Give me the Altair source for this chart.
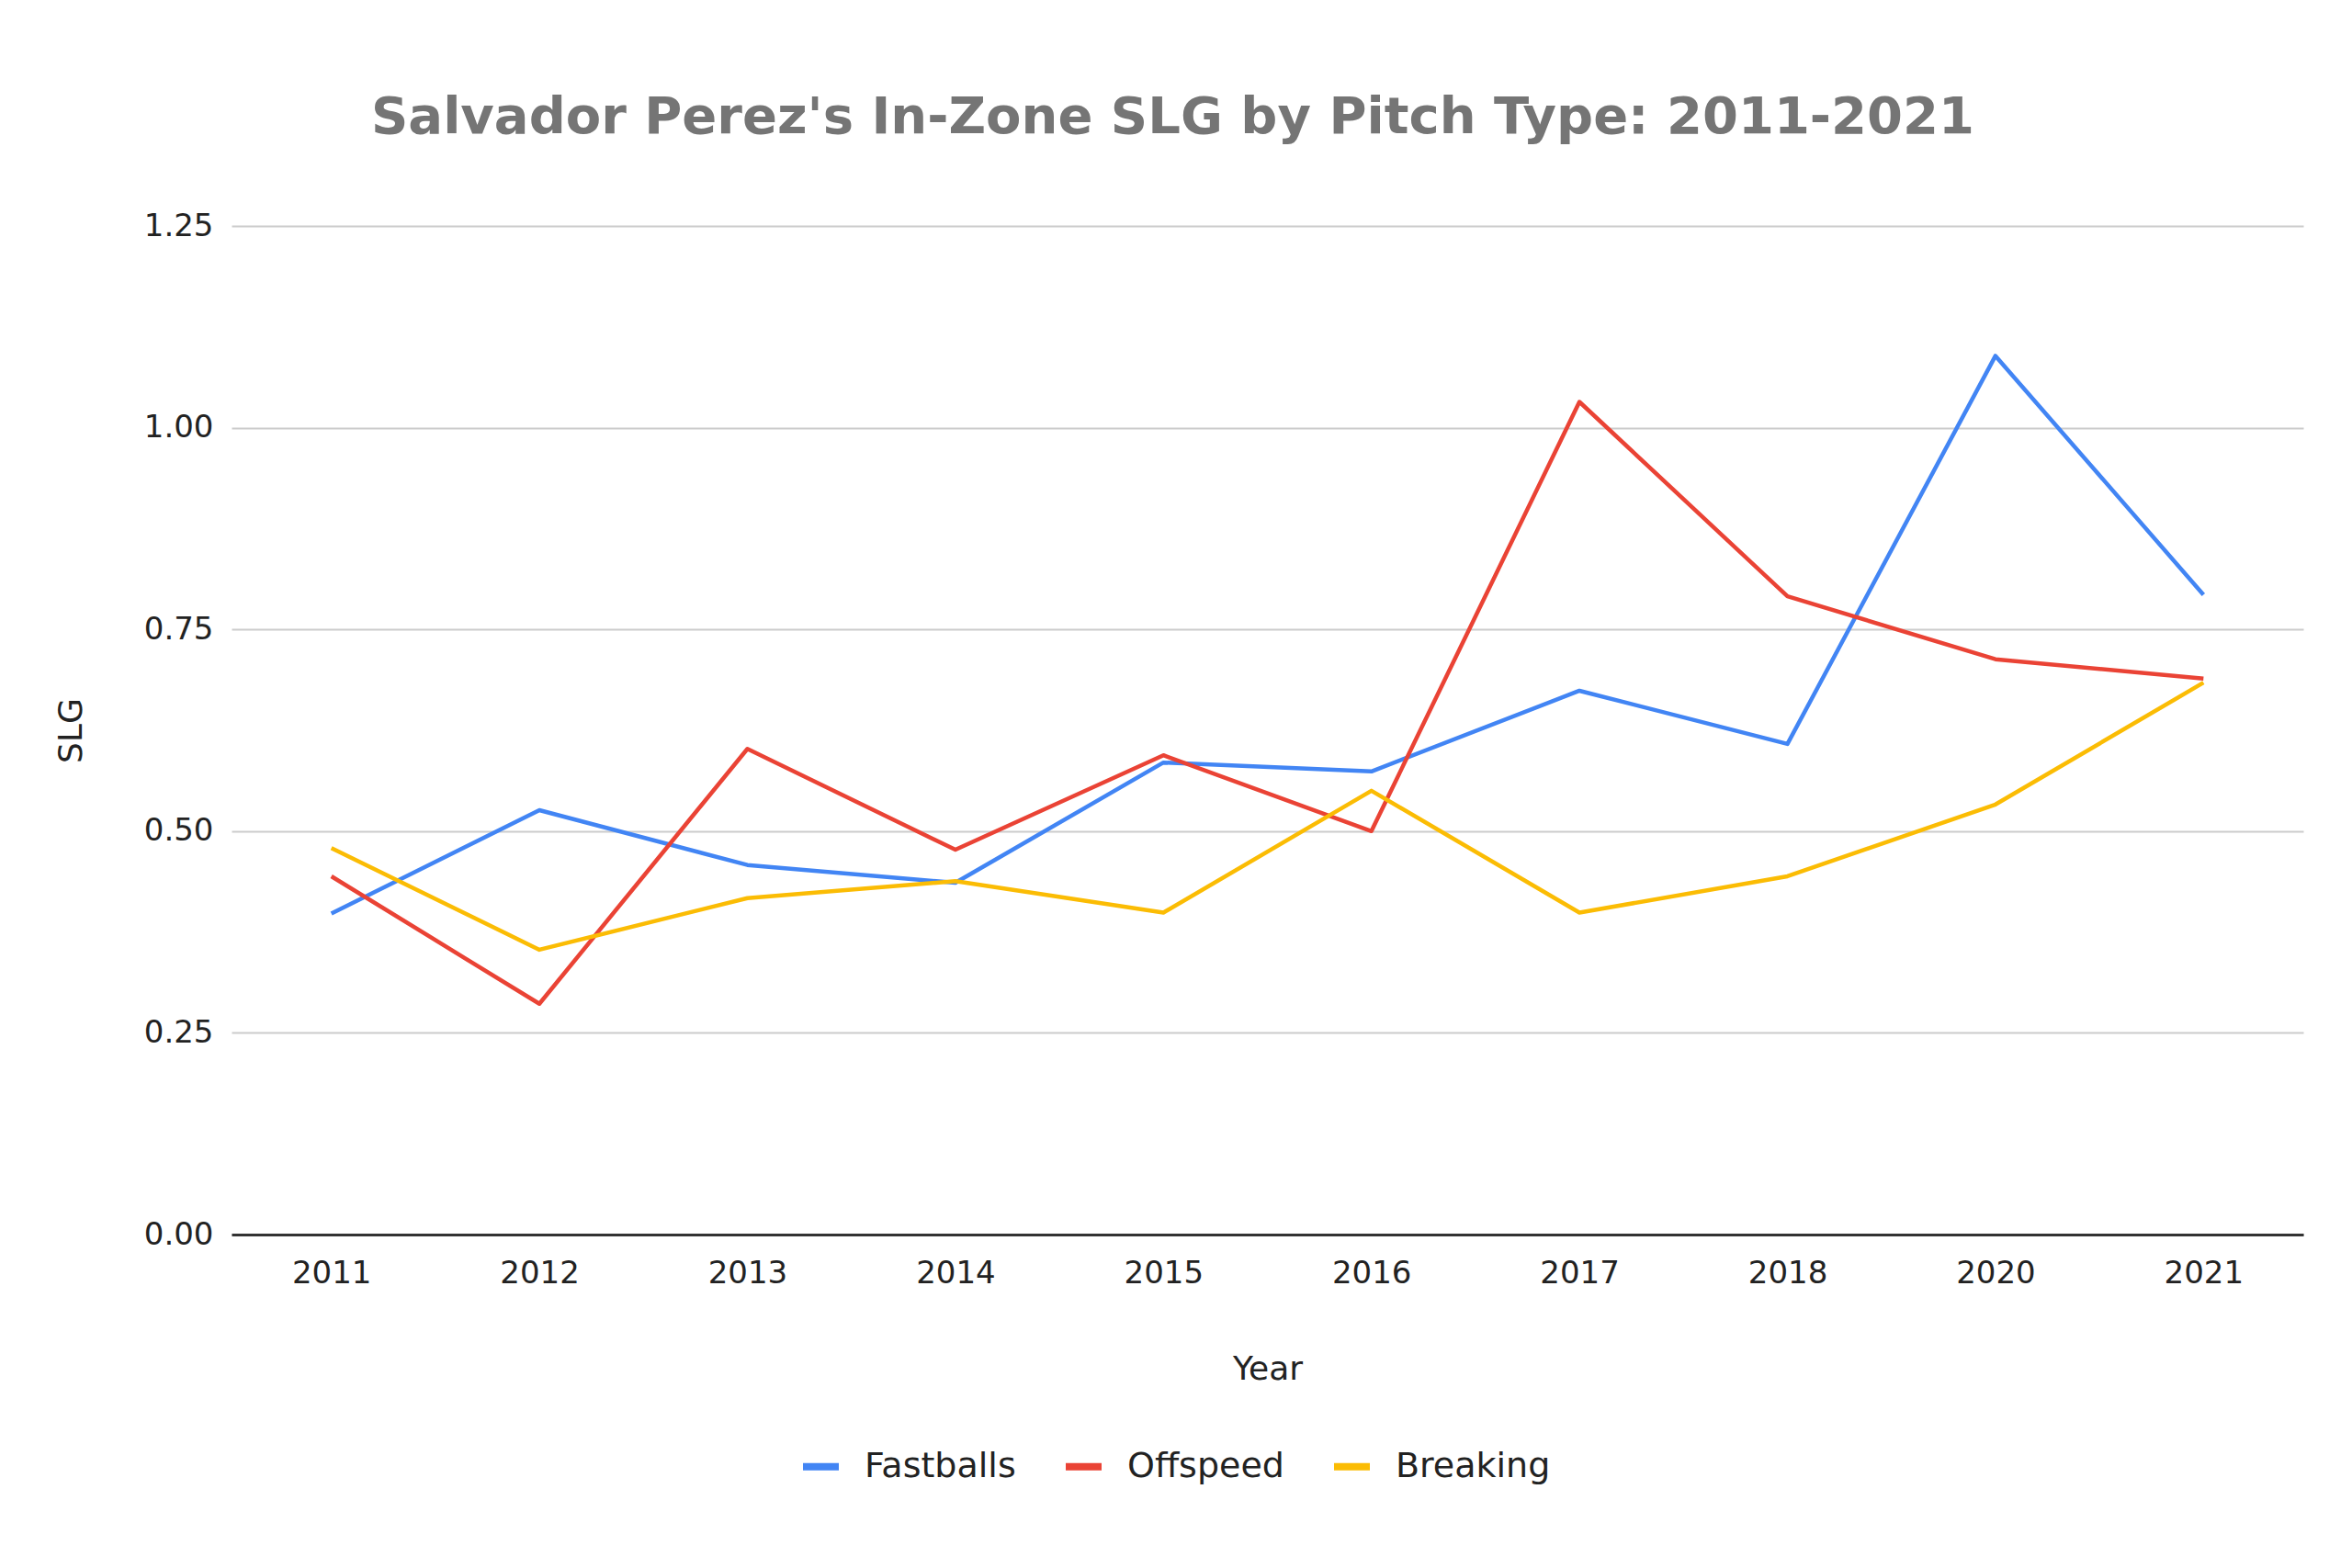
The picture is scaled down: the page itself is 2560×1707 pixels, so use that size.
import altair as alt
import pandas as pd

years = ["2011", "2012", "2013", "2014", "2015", "2016", "2017", "2018", "2020", "2021"]
fastballs = [0.398, 0.526, 0.458, 0.436, 0.585, 0.574, 0.674, 0.608, 1.089, 0.793]
offspeed = [0.444, 0.286, 0.602, 0.477, 0.594, 0.500, 1.032, 0.791, 0.713, 0.689]
breaking = [0.479, 0.353, 0.417, 0.438, 0.399, 0.550, 0.399, 0.444, 0.533, 0.684]

series_names = ["Fastballs", "Offspeed", "Breaking"]
series_colors = ["#4285F4", "#EA4335", "#FBBC04"]
y_ticks = [0.0, 0.25, 0.5, 0.75, 1.0, 1.25]
title_text = "Salvador Perez's In-Zone SLG by Pitch Type: 2011-2021"

rows = []
for name, vals in zip(series_names, [fastballs, offspeed, breaking]):
    for yr, v in zip(years, vals):
        rows.append({"Year": yr, "SLG": v, "Series": name})
df = pd.DataFrame(rows)

FONT = "DejaVu Sans"

chart = alt.Chart(df).mark_line(strokeWidth=4.5, strokeJoin="round").encode(
    x=alt.X("Year:O", sort=years,
            scale=alt.Scale(type="point", padding=0.48),
            axis=alt.Axis(title="Year", labelAngle=0, ticks=False, grid=False,
                          domain=True, domainColor="#333333", domainWidth=3,
                          labelFont=FONT, labelFontSize=34, labelColor="#222222",
                          labelPadding=25, titleFont=FONT, titleFontSize=36,
                          titleFontWeight="normal", titleColor="#222222",
                          titlePadding=70)),
    y=alt.Y("SLG:Q",
            scale=alt.Scale(domain=[0, 1.25], nice=False),
            axis=alt.Axis(title="SLG", values=y_ticks, format=".2f", ticks=False,
                          domain=False, grid=True, gridColor="#CCCCCC", gridWidth=2,
                          labelFont=FONT, labelFontSize=34, labelColor="#222222",
                          labelPadding=20, titleFont=FONT, titleFontSize=36,
                          titleFontWeight="normal", titleColor="#222222",
                          titlePadding=60)),
    color=alt.Color("Series:N",
                    scale=alt.Scale(domain=series_names, range=series_colors),
                    legend=alt.Legend(title=None, orient="none", direction="horizontal",
                                      legendX=618, legendY=1327,
                                      symbolType="stroke", symbolSize=1521,
                                      symbolStrokeWidth=8, labelFont=FONT,
                                      labelFontSize=38, labelColor="#222222",
                                      labelLimit=0, labelOffset=24, columnPadding=38)),
).properties(
    width=2255,
    height=1098,
    padding={"left": 244, "top": 238, "right": 40, "bottom": 300},
    autosize=alt.AutoSizeParams(type="none"),
    title=alt.Title(title_text, font=FONT, fontSize=56, fontWeight="bold",
                    color="#757575", anchor="middle", dx=-103, offset=28,
                    baseline="alphabetic"),
).configure_view(stroke=None)

chart.save("out.html", embed_options={"renderer": "svg", "actions": False})
